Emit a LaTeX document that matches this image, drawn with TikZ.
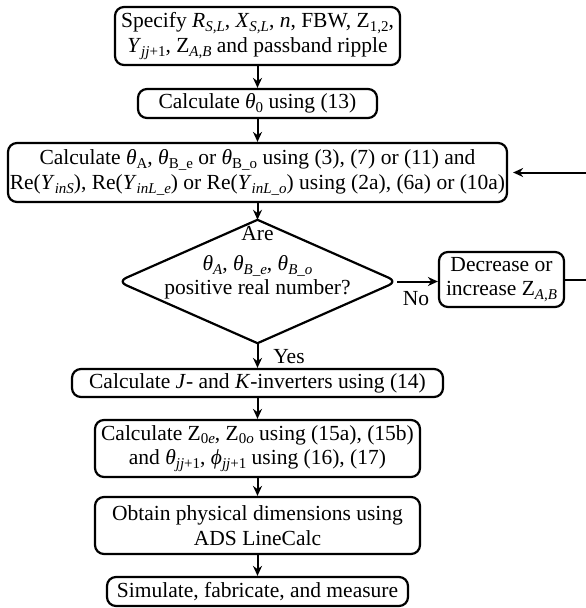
\documentclass[tikz,border=0pt]{standalone}
\usepackage{fontspec}
\setmainfont{Liberation Serif}
\usetikzlibrary{arrows.meta,shapes.geometric}
\newcommand\sbx[1]{\raisebox{-0.38ex}{\fontsize{15}{15}\selectfont #1}}
\newcommand\ii[1]{\textit{#1}}
\begin{document}
\begin{tikzpicture}[x=1pt,y=-1pt,
  box/.style={draw, line width=2.2pt, rounded corners=9pt, align=center, inner sep=0pt,
    font=\fontsize{21.5}{24.5}\selectfont},
  arr/.style={line width=2pt, -{Stealth[length=10pt,width=9pt]}},
  lab/.style={inner sep=0pt, font=\fontsize{21.5}{24.5}\selectfont},
  edge/.style={line width=2.2pt, rounded corners=9pt, line cap=round, line join=round}]
\useasboundingbox (0,0) rectangle (586,608);
\clip (0,0) rectangle (586,608);

\node[box, minimum width=285pt, minimum height=58pt] (b1) at (257.5,36)
  {Specify \ii{R}\sbx{\ii{S,L}}, \ii{X}\sbx{\ii{S,L}}, \ii{n}, FBW, Z\sbx{1,2},\\
   \ii{Y}\sbx{\ii{jj}+1}, Z\sbx{\ii{A,B}} and passband ripple};
\node[box, minimum width=239pt, minimum height=29pt] (b2) at (257.5,103.5)
  {Calculate \ii{θ}\sbx{0} using (13)};
\node[box, minimum width=499pt, minimum height=59pt] (b3) at (257.5,172.5)
  {Calculate \ii{θ}\sbx{A}, \ii{θ}\sbx{B\_e} or \ii{θ}\sbx{B\_o} using (3), (7) or (11) and\\
   Re(\ii{Y}\sbx{\ii{inS}}), Re(\ii{Y}\sbx{\ii{inL\_e}}) or Re(\ii{Y}\sbx{\ii{inL\_o}}) using (2a), (6a) or (10a)};
\node[diamond, draw=none, inner sep=0pt, minimum width=279pt, minimum height=123pt] (q) at (257.5,281.5) {};
\node[lab, align=center] (qt) at (257.5,263)
  {Are\\[5pt] \ii{θ}\sbx{\ii{A}}, \ii{θ}\sbx{\ii{B\_e}}, \ii{θ}\sbx{\ii{B\_o}}\\ positive real number?};
\node[box, minimum width=125pt, minimum height=55pt] (dec) at (501.5,279.5)
  {Decrease or\\ increase Z\sbx{\ii{A,B}}};
\node[box, minimum width=371pt, minimum height=28pt] (b4) at (257.5,383)
  {Calculate \ii{J}- and \ii{K}-inverters using (14)};
\node[box, minimum width=325pt, minimum height=57pt] (b5) at (257.5,448.5)
  {Calculate Z\sbx{0\ii{e}}, Z\sbx{0\ii{o}} using (15a), (15b)\\
   and \ii{θ}\sbx{\ii{jj}+1}, \ii{ϕ}\sbx{\ii{jj}+1} using (16), (17)};
\node[box, minimum width=325pt, minimum height=57pt] (b6) at (257.5,525.5)
  {Obtain physical dimensions using\\ ADS LineCalc};
\node[box, minimum width=301pt, minimum height=29pt] (b7) at (257.5,591.5)
  {Simulate, fabricate, and measure};
\node[lab] (no) at (416,299) {No};
\node[lab] (yes) at (289,357) {Yes};
\coordinate (rt) at (594,0);

\draw[edge] (q.north) -- (q.east) -- (q.south);
\draw[edge] (q.north) -- (q.west) -- (q.south);

\draw[arr] (b1) -- (b2);
\draw[arr] (b2) -- (b3);
\draw[arr] (b3.south) -- (q.north);
\draw[arr] (q.south) -- (b4.north);
\draw[arr] (b4) -- (b5);
\draw[arr] (b5) -- (b6);
\draw[arr] (b6) -- (b7);
\draw[arr] (q.east) -- (q.east -| dec.west);
\draw[arr, shorten >=5pt] (dec.east) -- (dec.east -| rt) |- (b3.east);
\end{tikzpicture}
\end{document}
